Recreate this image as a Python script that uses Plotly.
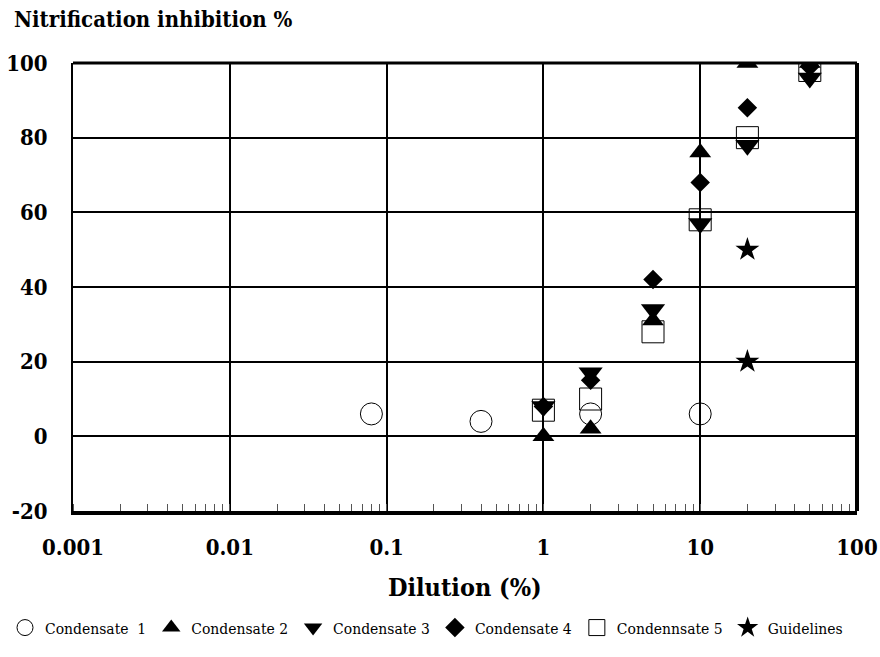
import plotly.graph_objects as go

# Data
c1_x = [0.08, 0.4, 2, 10]
c1_y = [6, 4, 6, 6]
c2_x = [1, 2, 5, 10, 20, 50]
c2_y = [0, 2, 31, 76, 100, 100]
c3_x = [1, 2, 5, 10, 20, 50]
c3_y = [8, 17, 34, 57, 78, 96]
c4_x = [1, 2, 5, 10, 20, 50]
c4_y = [8, 15, 42, 68, 88, 99]
c5_x = [1, 2, 5, 10, 20, 50]
c5_y = [7, 10, 28, 58, 80, 98]
gl_x = [20, 20]
gl_y = [50, 20]

x_ticks = [0.001, 0.01, 0.1, 1, 10, 100]
x_ticklabels = ["0.001", "0.01", "0.1", "1", "10", "100"]
y_ticks = [-20, 0, 20, 40, 60, 80, 100]
y_ticklabels = ["-20", "0", "20", "40", "60", "80", "100"]

FONT = "DejaVu Serif Condensed, DejaVu Serif"

fig = go.Figure()
series = [
    ("Condensate \u00a01", c1_x, c1_y, dict(symbol="circle-open", size=22, color="black", line=dict(width=1, color="black"))),
    ("Condensate 2", c2_x, c2_y, dict(symbol="triangle-up", size=19, color="black", line=dict(width=0))),
    ("Condensate 3", c3_x, c3_y, dict(symbol="triangle-down", size=21, color="black", line=dict(width=0))),
    ("Condensate 4", c4_x, c4_y, dict(symbol="diamond", size=15, color="black", line=dict(width=0))),
    ("Condennsate 5", c5_x, c5_y, dict(symbol="square-open", size=22, color="black", line=dict(width=1, color="black"))),
    ("Guidelines", gl_x, gl_y, dict(symbol="star", size=18, color="black", line=dict(width=0))),
]
for name, xs, ys, mk in series:
    fig.add_trace(go.Scatter(x=xs, y=ys, mode="markers", name=name, marker=mk))

fig.update_layout(
    width=880, height=657,
    margin=dict(l=73, r=23, t=63, b=146, autoexpand=False),
    paper_bgcolor="white", plot_bgcolor="white",
    font=dict(family=FONT, color="black"),
    showlegend=True,
    legend=dict(orientation="h", x=-68 / 784, xanchor="left",
                y=(511 - 628) / 448, yanchor="middle",
                font=dict(size=15.5, family=FONT), itemwidth=30, tracegroupgap=0),
    xaxis=dict(type="log", range=[-3, 2], tickvals=x_ticks, ticktext=x_ticklabels,
               showgrid=True, gridcolor="black", gridwidth=2, automargin=False,
               showline=True, linecolor="black", linewidth=4,
               ticks="", ticklabelstandoff=14,
               tickfont=dict(size=22, family=FONT, weight="bold"),
               minor=dict(ticks="inside", ticklen=7, tickcolor="#555", tickwidth=1, dtick="D1", showgrid=False),
               zeroline=False),
    yaxis=dict(range=[-20, 100], tickvals=y_ticks, ticktext=y_ticklabels,
               showgrid=True, gridcolor="black", gridwidth=2, automargin=False,
               zeroline=True, zerolinecolor="black", zerolinewidth=2,
               showline=True, linecolor="black", linewidth=2,
               ticks="", ticklabelstandoff=19,
               tickfont=dict(size=22, family=FONT, weight="bold")),
    annotations=[
        dict(text="<b>Nitrification inhibition %</b>", xref="paper", yref="paper",
             x=(12 - 73) / 784, y=(511 - 19) / 448, xanchor="left", yanchor="middle",
             showarrow=False, font=dict(size=22, family=FONT)),
        dict(text="<b>Dilution (%)</b>", xref="paper", yref="paper",
             x=0.5, y=(511 - 587) / 448, xanchor="center", yanchor="middle",
             showarrow=False, font=dict(size=25, family=FONT)),
    ],
    shapes=[
        dict(type="line", xref="paper", yref="paper", x0=0, x1=1, y0=1, y1=1,
             line=dict(color="black", width=3)),
        dict(type="line", xref="paper", yref="paper", x0=1, x1=1, y0=0, y1=1,
             line=dict(color="black", width=4)),
    ],
)

fig.write_html("out.html")
